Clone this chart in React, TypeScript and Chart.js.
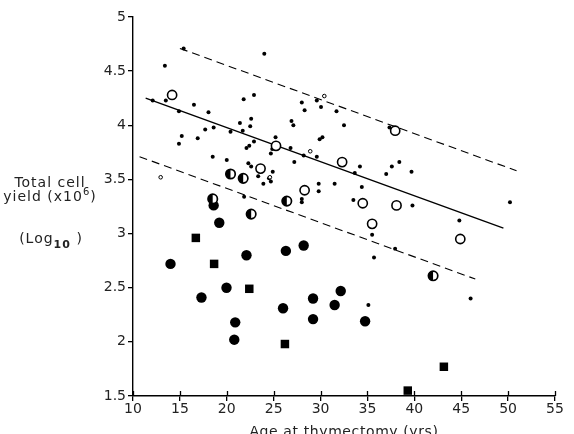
import React, { useEffect, useRef } from "react";
import { Chart, registerables } from "chart.js";

Chart.register(...registerables);

// Small filled dots
const dotX = [15.4, 13.4, 24.0, 12.1, 13.5, 14.9, 16.5, 18.05, 17.7, 18.6, 15.2, 14.9, 16.9, 18.5, 20.0, 20.4, 21.8, 22.9, 21.4, 22.6, 22.5, 21.7, 22.1, 22.4, 22.9, 22.3, 22.6, 23.35, 23.9, 24.5, 24.7, 24.9, 25.2, 24.7, 24.85, 26.8, 27.2, 26.9, 27.1, 28.0, 28.3, 28.2, 29.6, 29.6, 30.05, 29.9, 30.2, 31.7, 32.5, 37.35, 34.2, 33.65, 37.6, 38.4, 37.0, 39.7, 29.8, 29.8, 31.5, 34.4, 28.0, 28.0, 33.5, 39.8, 50.2, 35.5, 44.8, 37.95, 35.7, 46.0, 35.1, 21.85];
const dotY = [4.71, 4.55, 4.66, 4.23, 4.23, 4.13, 4.19, 4.12, 3.96, 3.98, 3.90, 3.83, 3.88, 3.71, 3.68, 3.94, 4.24, 4.28, 4.02, 4.06, 3.99, 3.95, 3.79, 3.81, 3.85, 3.65, 3.62, 3.53, 3.46, 3.51, 3.48, 3.57, 3.89, 3.74, 3.78, 3.79, 3.66, 4.04, 4.00, 4.21, 4.14, 3.72, 3.71, 4.23, 4.17, 3.87, 3.89, 4.13, 4.00, 3.98, 3.62, 3.56, 3.62, 3.66, 3.55, 3.57, 3.46, 3.39, 3.46, 3.43, 3.32, 3.29, 3.31, 3.26, 3.29, 2.99, 3.12, 2.86, 2.78, 2.40, 2.34, 3.34];

// Small open circles
const smallOpenX = [12.95, 24.6, 28.9, 30.4];
const smallOpenY = [3.52, 3.52, 3.76, 4.27];

// Large open circles
const openX = [14.17, 23.6, 25.25, 32.3, 37.96, 28.3, 34.5, 38.1, 35.5, 44.9];
const openY = [4.28, 3.60, 3.81, 3.66, 3.95, 3.40, 3.28, 3.26, 3.09, 2.95];

// Half-filled circles
const halfX = [20.4, 21.75, 18.5, 22.6, 26.4, 42.0];
const halfY = [3.55, 3.51, 3.32, 3.18, 3.30, 2.61];

// Large filled circles
const bigX = [18.6, 19.2, 14.0, 22.1, 26.3, 28.2, 17.3, 19.97, 26.0, 29.2, 32.15, 31.5, 29.2, 20.9, 20.8, 34.75];
const bigY = [3.26, 3.10, 2.72, 2.80, 2.84, 2.89, 2.41, 2.50, 2.31, 2.40, 2.47, 2.34, 2.21, 2.18, 2.02, 2.19];

// Filled squares
const sqX = [16.7, 18.65, 22.4, 26.2, 43.15, 39.3];
const sqY = [2.96, 2.72, 2.49, 1.98, 1.77, 1.55];

// Regression line and confidence limits
const fitX = [11.35, 49.5];
const fitY = [4.25, 3.05];
const upperX = [15.0, 50.9];
const upperY = [4.71, 3.58];
const lowerX = [10.7, 46.5];
const lowerY = [3.71, 2.58];

const xMin = 10, xMax = 55, xStep = 5;
const yMin = 1.5, yMax = 5, yStep = 0.5;

const xTitle = "Age at thymectomy (yrs)";

function pts(xs: number[], ys: number[]) {
  return xs.map((x, i) => ({ x, y: ys[i] }));
}

const FONT = "'DejaVu Sans', sans-serif";
const TEXT = "#222";

export default function App() {
  const ref = useRef<HTMLCanvasElement>(null);

  useEffect(() => {
    const halfPlugin = {
      id: "halfCircles",
      afterDatasetsDraw(chart: any) {
        const idx = chart.data.datasets.findIndex((d: any) => d.label === "half");
        if (idx < 0) return;
        const meta = chart.getDatasetMeta(idx);
        const ctx = chart.ctx as CanvasRenderingContext2D;
        const r = 4.7;
        ctx.save();
        for (const el of meta.data) {
          const { x, y } = el;
          ctx.beginPath();
          ctx.arc(x, y, r, 0, Math.PI * 2);
          ctx.fillStyle = "#fff";
          ctx.fill();
          ctx.beginPath();
          ctx.arc(x, y, r, Math.PI / 2, Math.PI * 1.5);
          ctx.closePath();
          ctx.fillStyle = "#000";
          ctx.fill();
          ctx.beginPath();
          ctx.arc(x, y, r, 0, Math.PI * 2);
          ctx.lineWidth = 1.7;
          ctx.strokeStyle = "#000";
          ctx.stroke();
        }
        ctx.restore();
      },
    };

    const labelPlugin = {
      id: "labels",
      afterDraw(chart: any) {
        const ctx = chart.ctx as CanvasRenderingContext2D;
        const xs = chart.scales.x;
        const area = chart.chartArea;
        ctx.save();
        // upward part of x ticks
        ctx.strokeStyle = "#000";
        ctx.lineWidth = 1.3;
        for (let v = xMin; v <= xMax; v += xStep) {
          const px = Math.round(xs.getPixelForValue(v)) + 0.5;
          ctx.beginPath();
          ctx.moveTo(px, area.bottom);
          ctx.lineTo(px, area.bottom - 5);
          ctx.stroke();
        }
        ctx.fillStyle = TEXT;
        ctx.textBaseline = "alphabetic";
        ctx.textAlign = "left";
        (ctx as any).letterSpacing = "1px";
        type Seg = { t: string; size: number; dy: number; bold?: boolean };
        const drawLine = (segs: Seg[], cx: number, y: number) => {
          let w = 0;
          for (const s of segs) {
            ctx.font = `${s.bold ? "bold " : ""}${s.size}px ${FONT}`;
            w += ctx.measureText(s.t).width;
          }
          let x = cx - w / 2;
          for (const s of segs) {
            ctx.font = `${s.bold ? "bold " : ""}${s.size}px ${FONT}`;
            ctx.fillText(s.t, x, y + s.dy);
            x += ctx.measureText(s.t).width;
          }
        };
        drawLine([{ t: "Total cell", size: 14, dy: 0 }], 50, 187);
        drawLine(
          [
            { t: "yield (x10", size: 14, dy: 0 },
            { t: "6", size: 10, dy: -6 },
            { t: ")", size: 14, dy: 0 },
          ],
          50,
          201
        );
        drawLine(
          [
            { t: "(Log", size: 14, dy: 0 },
            { t: "10", size: 11, dy: 5, bold: true },
            { t: " )", size: 14, dy: 0 },
          ],
          51,
          243
        );
        (ctx as any).letterSpacing = "0.6px";
        ctx.font = `14px ${FONT}`;
        ctx.textAlign = "center";
        ctx.fillText(xTitle, (area.left + area.right) / 2, 436);
        ctx.restore();
      },
    };

    const chart = new Chart(ref.current!, {
      type: "scatter",
      data: {
        datasets: [
          {
            label: "squares",
            data: pts(sqX, sqY),
            pointStyle: "rect",
            pointRadius: 6,
            backgroundColor: "#000",
            borderColor: "#000",
            borderWidth: 0,
          },
          {
            label: "big",
            data: pts(bigX, bigY),
            pointStyle: "circle",
            pointRadius: 5.2,
            backgroundColor: "#000",
            borderColor: "#000",
            borderWidth: 0,
          },
          {
            label: "half",
            data: pts(halfX, halfY),
            pointRadius: 0,
            borderWidth: 0,
          },
          {
            label: "open",
            data: pts(openX, openY),
            pointStyle: "circle",
            pointRadius: 4.6,
            backgroundColor: "#fff",
            borderColor: "#000",
            borderWidth: 1.6,
          },
          {
            label: "smallOpen",
            data: pts(smallOpenX, smallOpenY),
            pointStyle: "circle",
            pointRadius: 1.8,
            backgroundColor: "#fff",
            borderColor: "#000",
            borderWidth: 1,
          },
          {
            label: "dots",
            data: pts(dotX, dotY),
            pointStyle: "circle",
            pointRadius: 2,
            backgroundColor: "#000",
            borderColor: "#000",
            borderWidth: 0,
          },
          {
            label: "fit",
            data: pts(fitX, fitY),
            showLine: true,
            pointRadius: 0,
            borderColor: "#000",
            borderWidth: 1.4,
            order: 10,
          } as any,
          {
            label: "upper",
            data: pts(upperX, upperY),
            showLine: true,
            pointRadius: 0,
            borderColor: "#000",
            borderWidth: 1.1,
            borderDash: [8, 5],
            order: 10,
          } as any,
          {
            label: "lower",
            data: pts(lowerX, lowerY),
            showLine: true,
            pointRadius: 0,
            borderColor: "#000",
            borderWidth: 1.1,
            borderDash: [8, 5],
            order: 10,
          } as any,
        ],
      },
      options: {
        responsive: false,
        animation: false,
        layout: { padding: { top: 17, right: 19, left: 0, bottom: 0 } },
        plugins: {
          legend: { display: false },
          tooltip: { enabled: false },
        },
        scales: {
          x: {
            type: "linear",
            min: xMin,
            max: xMax,
            afterFit(scale: any) {
              scale.height = 38;
            },
            border: { display: true, color: "#000", width: 1.4 },
            grid: {
              display: true,
              drawOnChartArea: false,
              drawTicks: true,
              tickLength: 5,
              color: "#000",
              lineWidth: 1.3,
            },
            ticks: {
              stepSize: xStep,
              padding: 0,
              color: TEXT,
              font: { family: FONT, size: 14 },
              maxRotation: 0,
            },
          },
          y: {
            type: "linear",
            min: yMin,
            max: yMax,
            afterFit(scale: any) {
              scale.width = 133;
            },
            border: { display: true, color: "#000", width: 1.4 },
            grid: {
              display: true,
              drawOnChartArea: false,
              drawTicks: true,
              tickLength: 5,
              color: "#000",
              lineWidth: 1.3,
            },
            ticks: {
              stepSize: yStep,
              padding: 2,
              color: TEXT,
              font: { family: FONT, size: 14 },
              callback: (v: any) => String(Number(v)),
            },
          },
        },
      },
      plugins: [halfPlugin, labelPlugin],
    });
    return () => chart.destroy();
  }, []);

  return (
    <div style={{ position: "absolute", left: 0, top: 0, width: 574, height: 434 }}>
      <canvas ref={ref} width={574} height={434} style={{ display: "block" }} />
    </div>
  );
}
